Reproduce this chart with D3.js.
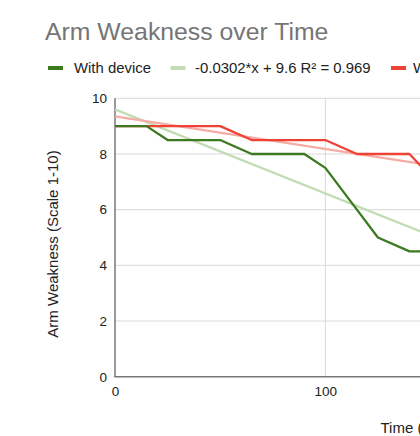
<!DOCTYPE html>
<html>
<head>
<meta charset="utf-8">
<script src="https://cdn.jsdelivr.net/npm/d3@7"></script>
<style>
  html, body { margin: 0; padding: 0; overflow: hidden; background: #fff; }
  svg { display: block; font-family: "Liberation Sans", Arial, sans-serif; }
</style>
</head>
<body>
<script>
// ---- data ----
const times = [0, 15, 25, 50, 65, 90, 100, 115, 125, 140, 150];
const withDevice = [9, 9, 8.5, 8.5, 8, 8, 7.5, 6, 5, 4.5, 4.5];
const withoutDevice = [9, 9, 9, 9, 8.5, 8.5, 8.5, 8, 8, 8, 7.2];
const trendWith = [-0.0302, 9.6];      // slope, intercept
const trendWithout = [-0.0117, 9.35];  // slope, intercept
const yTicks = [0, 2, 4, 6, 8, 10];
const xTicks = [0, 100, 200, 300];
const legendLabels = ["With device", "-0.0302*x + 9.6 R² = 0.969", "Without device", "-0.0117*x + 9.35 R² = 0.93"];

const W = 760, H = 436;
const svg = d3.select("body").append("svg").attr("width", W).attr("height", H);

const x = d3.scaleLinear().domain([0, 300]).range([115, 746]);
const y = d3.scaleLinear().domain([0, 10]).range([376.7, 98.3]);

const green = "#3b7a1f", greenTrend = "#c2dcb5", red = "#ee4236", redTrend = "#f6aba4";

// title
svg.append("text").attr("x", 45).attr("y", 39.5)
  .attr("font-size", 24.8).attr("fill", "#757575").text("Arm Weakness over Time");

// legend
const swatchX = [48, 170.5, 391, 560];
const textX = [74, 195, 413, 585];
const legendColors = [green, greenTrend, red, redTrend];
legendLabels.forEach((t, i) => {
  svg.append("rect").attr("x", swatchX[i]).attr("y", 66).attr("width", 15).attr("height", 4)
    .attr("fill", legendColors[i]);
  svg.append("text").attr("x", textX[i]).attr("y", 72.5)
    .attr("font-size", 14.9).attr("fill", "#222").text(t);
});

// gridlines
svg.append("g").selectAll("line").data(yTicks.filter(d => d > 0)).join("line")
  .attr("x1", x(0)).attr("x2", x(300)).attr("y1", d => y(d)).attr("y2", d => y(d))
  .attr("stroke", "#d9d9d9").attr("stroke-width", 1);
svg.append("g").selectAll("line").data(xTicks.filter(d => d > 0)).join("line")
  .attr("y1", y(0)).attr("y2", y(10)).attr("x1", d => x(d)).attr("x2", d => x(d))
  .attr("stroke", "#d9d9d9").attr("stroke-width", 1);

// axes
const yAxis = d3.axisLeft(y).tickValues(yTicks).tickSize(0).tickPadding(8);
const gy = svg.append("g").attr("transform", `translate(${x(0)},0)`).call(yAxis);
gy.select(".domain").remove();
gy.selectAll("text").attr("font-size", 13.5).attr("fill", "#222").attr("font-family", "Liberation Sans, Arial, sans-serif");

const xAxis = d3.axisBottom(x).tickValues(xTicks).tickSize(0).tickPadding(10);
const gx = svg.append("g").attr("transform", `translate(0,${y(0)})`).call(xAxis);
gx.select(".domain").remove();
gx.selectAll("text").attr("font-size", 13.5).attr("fill", "#222").attr("font-family", "Liberation Sans, Arial, sans-serif");

// axis lines
svg.append("line").attr("x1", x(0)).attr("x2", x(0)).attr("y1", y(10)).attr("y2", y(0))
  .attr("stroke", "#777").attr("stroke-width", 1.5);
svg.append("line").attr("x1", x(0) - 0.75).attr("x2", x(300)).attr("y1", y(0)).attr("y2", y(0))
  .attr("stroke", "#777").attr("stroke-width", 1.5);

// axis titles
svg.append("text").attr("transform", `translate(58,244) rotate(-90)`)
  .attr("text-anchor", "middle").attr("font-size", 15).attr("fill", "#222")
  .text("Arm Weakness (Scale 1-10)");
svg.append("text").attr("x", 380.5).attr("y", 433)
  .attr("font-size", 15).attr("fill", "#222").text("Time (days)");

// trendlines
const ext = d3.extent(times);
const trendLine = (coef) => ext.map(t => [x(t), y(coef[0] * t + coef[1])]);
svg.append("path").attr("d", d3.line()(trendLine(trendWith)))
  .attr("fill", "none").attr("stroke", greenTrend).attr("stroke-width", 2.3);
svg.append("path").attr("d", d3.line()(trendLine(trendWithout)))
  .attr("fill", "none").attr("stroke", redTrend).attr("stroke-width", 2.3);

// data lines
const line = d3.line().x(d => x(d[0])).y(d => y(d[1]));
svg.append("path").attr("d", line(times.map((t, i) => [t, withoutDevice[i]])))
  .attr("fill", "none").attr("stroke", red).attr("stroke-width", 2.3).attr("stroke-linejoin", "round");
svg.append("path").attr("d", line(times.map((t, i) => [t, withDevice[i]])))
  .attr("fill", "none").attr("stroke", green).attr("stroke-width", 2.3).attr("stroke-linejoin", "round");
</script>
</body>
</html>
